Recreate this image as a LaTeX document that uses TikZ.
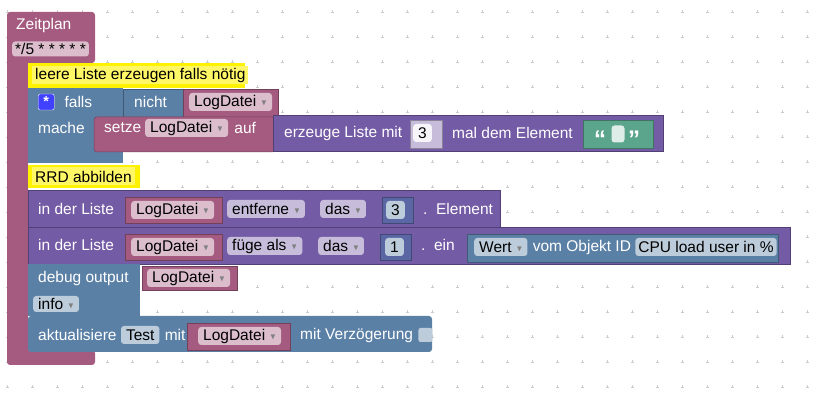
\documentclass[tikz,border=0pt]{standalone}
\usepackage{amssymb}
\usepackage{fontspec}
\setmainfont{Liberation Sans}
\usepackage{tikz}
\usetikzlibrary{positioning}
\definecolor{procpink}{HTML}{A55B80}
\definecolor{fieldpink}{HTML}{DBBDCC}
\definecolor{listpurple}{HTML}{745BA5}
\definecolor{fieldlilac}{HTML}{C7BDDB}
\definecolor{sysblue}{HTML}{5B80A5}
\definecolor{fieldblue}{HTML}{BDCCDB}
\definecolor{mathblue}{HTML}{5B67A5}
\definecolor{textgreen}{HTML}{5BA58C}
\definecolor{gridgray}{HTML}{CCCCCC}
\tikzset{
  lbl/.style={text=white,anchor=west,inner sep=0pt,font=\fontsize{15.5}{17}\selectfont},
  fld/.style={text=black,anchor=west,rounded corners=3pt,inner xsep=5pt,inner ysep=1pt,minimum height=18pt,font=\fontsize{15.5}{17}\selectfont},
  cmt/.style={text=black,anchor=west,fill=yellow!60,inner xsep=3pt,inner ysep=1pt,minimum height=18pt,font=\fontsize{15.5}{17}\selectfont},
  blk/.style={draw=#1!70!black,line width=0.5pt,fill=#1},
}
\newcommand{\drop}{\hspace{5pt}\textcolor{gray}{\raisebox{1pt}{\fontsize{8}{8}\selectfont$\blacktriangledown$}}\hspace{1pt}}
\begin{document}
\begin{tikzpicture}[x=1pt,y=-1pt]
\useasboundingbox (0,0) rectangle (820,403);
% grid
\foreach \i in {0,...,32}
  \foreach \j in {0,...,15}
    \draw[gridgray,line width=0.5pt] ({7+25*\i-1.5},{12+25*\j}) -- ++(3,0) ({7+25*\i},{12+25*\j-1.5}) -- ++(0,3);
% Zeitplan
\fill[procpink,rounded corners=3pt] (7,12) rectangle (95,63) (7,40) rectangle (28,365) (7,350) rectangle (95,365);
\node[lbl] (zeit) at (16,25) {Zeitplan};
\node[fld,fill=fieldpink,minimum height=15pt,inner xsep=3pt] (cron) at (12,49) {*/5 * * * * *};
% comment 1
\fill[yellow] (28,63) rectangle (245,88);
\node[cmt] (cmt1) at (32,75.5) {leere Liste erzeugen falls nötig};
% falls block
\fill[sysblue] (28,88) rectangle (123,163);
\draw[blk=sysblue] (123,89) rectangle (183,117);
\draw[blk=procpink] (183,89) rectangle (278,117);
\node[fill=blue!75!white,draw=white,text=white,minimum size=16pt,inner sep=0pt,rounded corners=2pt,font=\Large\bfseries,anchor=west] (gear) at (38,102) {\raisebox{-3pt}{*}};
\node[lbl,right=10pt of gear] (falls) {falls};
\node[lbl] (nicht) at (134,102) {nicht};
\node[fld,fill=fieldpink] (ld1) at (189,102) {LogDatei\drop};
\node[lbl] (mache) at (38,128) {mache};
\draw[blk=procpink,rounded corners=3pt] (94,117) rectangle (275,152);
\node[lbl] (setze) at (104,128) {setze};
\node[fld,fill=fieldpink] (ld2) at (145,128) {LogDatei\drop};
\node[lbl,right=6pt of ld2] (auf) {auf};
% erzeuge Liste
\draw[blk=listpurple] (273,115) rectangle (663,151);
\node[lbl] (erz) at (284,133) {erzeuge Liste mit};
\draw[blk=fieldlilac] (410,120) rectangle (442,148);
\node[fld,fill=white!85!fieldlilac] (n3a) at (413,133) {3};
\node[lbl] (mal) at (452,133) {mal dem Element};
\draw[blk=textgreen] (583,120) rectangle (653,148);
\node[text=white,font=\bfseries\fontsize{24}{24}\selectfont,anchor=west,inner sep=0pt] (q1) at (594,139) {\textquotedblleft};
\node[fill=white!80!textgreen,rounded corners=3pt,minimum width=13pt,minimum height=17pt,inner sep=0pt] (qbox) at (618,134) {};
\node[text=white,font=\bfseries\fontsize{24}{24}\selectfont,anchor=west,inner sep=0pt] (q2) at (628,139) {\textquotedblright};
% comment 2
\fill[yellow] (28,165) rectangle (140,188);
\node[cmt] (cmt2) at (32,176.5) {RRD abbilden};
% entferne
\draw[blk=listpurple] (28,190) rectangle (500,227);
\node[lbl] (idl1) at (38,209) {in der Liste};
\draw[blk=procpink] (125,197) rectangle (222,223);
\node[fld,fill=fieldpink] (ld3) at (131,210) {LogDatei\drop};
\node[fld,fill=fieldlilac] (ent) at (227,209) {entferne\drop};
\node[fld,fill=fieldlilac] (das1) at (320,209) {das\drop};
\draw[blk=mathblue] (382,197) rectangle (413,223);
\node[fld,fill=fieldblue] (n3b) at (386,210) {3};
\node[lbl] (el) at (423,209) {.\ \ Element};
% fuege
\draw[blk=listpurple] (28,227) rectangle (790,264);
\node[lbl] (idl2) at (38,245) {in der Liste};
\draw[blk=procpink] (125,234) rectangle (222,260);
\node[fld,fill=fieldpink] (ld4) at (131,247) {LogDatei\drop};
\node[fld,fill=fieldlilac] (fue) at (227,246) {füge als\drop};
\node[fld,fill=fieldlilac] (das2) at (318,246) {das\drop};
\draw[blk=mathblue] (380,234) rectangle (411,260);
\node[fld,fill=fieldblue] (n1) at (385,247) {1};
\node[lbl] (ein) at (421,245) {.\ \ ein};
\draw[blk=sysblue] (467,234) rectangle (778,262);
\node[fld,fill=fieldblue] (wert) at (474,247) {Wert\drop};
\node[lbl,right=5pt of wert] (obj) {vom Objekt ID};
\node[fld,fill=fieldblue,inner xsep=3pt,right=4pt of obj] (cpu) {CPU load user in \%};
% debug
\fill[sysblue] (28,264) rectangle (140,316);
\draw[blk=procpink] (142,266) rectangle (237,290);
\node[lbl] (dbg) at (38,278) {debug output};
\node[fld,fill=fieldpink] (ld5) at (147,278) {LogDatei\drop};
\node[fld,fill=fieldblue,minimum height=16pt] (info) at (33,304) {info\drop};
% aktualisiere
\fill[sysblue,rounded corners=3pt] (28,316) rectangle (432,352);
\node[lbl] (akt) at (38,335) {aktualisiere};
\node[fld,fill=fieldblue,right=4pt of akt] (test) {Test};
\node[lbl,right=5pt of test] (mit) {mit};
\draw[blk=procpink] (187,323) rectangle (290,350);
\node[fld,fill=fieldpink] (ld6) at (198,336) {LogDatei\drop};
\node[lbl] (verz) at (300,335) {mit Verzögerung};
\node[fill=fieldblue,rounded corners=2pt,minimum size=14pt,inner sep=0pt,right=5pt of verz] (chk) {};
\end{tikzpicture}
\end{document}
